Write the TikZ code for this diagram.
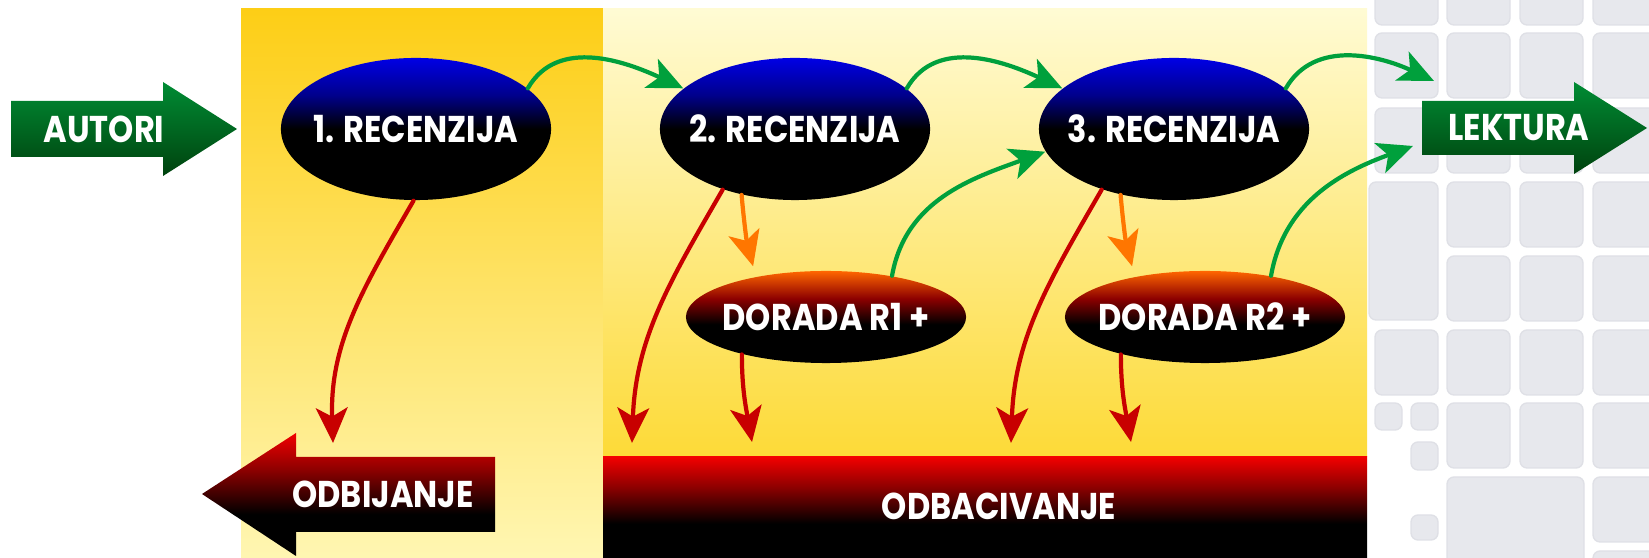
\documentclass[tikz,border=0pt]{standalone}
\usepackage{fontspec}
\setmainfont{Poppins}[FakeStretch=0.86]
\usetikzlibrary{arrows.meta,shapes.geometric}

\definecolor{goldtop}{RGB}{253,206,22}
\definecolor{goldbot}{RGB}{255,246,178}
\definecolor{paletop}{RGB}{255,251,212}
\definecolor{palebot}{RGB}{253,218,55}
\definecolor{keygrey}{RGB}{231,232,237}
\definecolor{keyedge}{RGB}{223,224,230}
\definecolor{arrgreen}{RGB}{0,140,52}
\definecolor{arrgreendk}{RGB}{0,66,14}
\definecolor{linegreen}{RGB}{0,160,60}
\definecolor{linered}{RGB}{200,0,0}
\definecolor{lineorange}{RGB}{255,118,0}

\pgfdeclareverticalshading{recshade}{100bp}{color(0bp)=(black); color(50bp)=(black);
  color(62bp)=(blue!55!black); color(75bp)=(blue!90!black); color(100bp)=(blue!90!black)}
\pgfdeclareverticalshading{dorshade}{100bp}{color(0bp)=(black); color(46bp)=(black);
  color(60bp)=(red!55!black); color(75bp)=(orange!80!red); color(100bp)=(orange!80!red)}
\pgfdeclareverticalshading{redshade}{100bp}{color(0bp)=(black); color(42bp)=(black);
  color(60bp)=(red!55!black); color(75bp)=(red!95!black); color(100bp)=(red!95!black)}

\begin{document}
\begin{tikzpicture}[x=0.01cm,y=0.01cm,line cap=round,line join=round,
  txt/.style={text=white,font=\bfseries\fontsize{10.6}{12}\selectfont},
  recenz/.style={ellipse,shade,shading=recshade,minimum width=2.7cm,minimum height=1.42cm,
    inner xsep=-8pt,inner ysep=0pt,txt},
  dorada/.style={ellipse,shade,shading=dorshade,minimum width=2.8cm,minimum height=0.92cm,
    inner xsep=-8pt,inner ysep=0pt,txt},
  tip/.style={-{Stealth[length=10pt,width=9pt,inset=2.5pt]}},
  greenline/.style={draw=linegreen,line width=1.2pt,tip},
  redline/.style={draw=linered,line width=1.2pt,tip},
  orangeline/.style={draw=lineorange,line width=1.2pt,tip,shorten >=3pt},
  keycap/.style={fill=keygrey,draw=keyedge,rounded corners=2pt}]
\useasboundingbox (0,0) rectangle (1649,558);

% keyboard in the back
\begin{scope}
\clip (1367,0) rectangle (1649,558);
\foreach \ky in {598,525,450,376,302,228,155}
  \foreach \kx in {1447,1520,1593}
    \draw[keycap] (\kx,\ky) rectangle ++(63,-65);
\foreach \ky in {81,7}
  \draw[keycap] (1593,\ky) rectangle ++(63,-65);
\foreach \ky in {598,525,450,228}
  \draw[keycap] (1375,\ky) rectangle ++(63,-65);
\draw[keycap] (1369,376) rectangle (1438,238);
\draw[keycap] (1375,155) rectangle (1402,128);
\draw[keycap] (1411,155) rectangle (1438,128);
\draw[keycap] (1411,116) rectangle (1438,88);
\draw[keycap] (1411,43) rectangle (1438,18);
\draw[keycap] (1447,81) rectangle (1584,-57);
\end{scope}

% the two panels
\shade[top color=goldtop,bottom color=goldbot] (241,0) rectangle (603,549);
\shade[top color=paletop,bottom color=palebot] (603,101) rectangle (1367,549);
\shade[shading=redshade] (603,0) rectangle (1367,101);

% big arrows
\shade[top color=arrgreen,bottom color=arrgreendk] (11,401) -- (163,401) -- (163,382) -- (237,429)
  -- (163,476) -- (163,457) -- (11,457) -- cycle;
\shade[top color=arrgreen,bottom color=arrgreendk] (1422,403) -- (1574,403) -- (1574,384) -- (1647,430)
  -- (1574,476) -- (1574,457) -- (1422,457) -- cycle;
\shade[shading=redshade] (495,26) -- (296,26) -- (296,2) -- (202,64) -- (296,125) -- (296,101)
  -- (495,101) -- cycle;

\node[txt] (autori) at (104,429) {AUTORI};
\node[txt] (lektura) at (1519,430) {LEKTURA};
\node[txt] (odbij) at (383,64) {ODBIJANJE};
\node[txt] (odbac) at (999,52) {ODBACIVANJE};

% reviews
\node[recenz] (rec1) at (416,429) {1. RECENZIJA};
\node[recenz] (rec2) at (795,429) {2. RECENZIJA};
\node[recenz] (rec3) at (1174,429) {3. RECENZIJA};
\node[dorada] (dor1) at (826,241) {DORADA R1~+};
\node[dorada] (dor2) at (1205,241) {DORADA R2~+};

% free ends
\coordinate (lekin) at (1434,477);
\coordinate (lekin2) at (1413,412);
\coordinate (r1) at (333,115);
\coordinate (r2) at (632,115);
\coordinate (r3) at (752,116);
\coordinate (r4) at (1011,115);
\coordinate (r5) at (1131,116);

\draw[greenline] (rec1.20) to[out=60,in=155] (rec2.160);
\draw[greenline] (rec2.20) to[out=60,in=155] (rec3.160);
\draw[greenline] (rec3.20) to[out=60,in=155] (lekin);
\draw[greenline] (dor1.32) to[out=80,in=200] (rec3.190);
\draw[greenline] (dor2.32) to[out=80,in=200] (lekin2);

\draw[orangeline] (rec2.231) to[out=-85,in=105] (dor1.150);
\draw[orangeline] (rec3.231) to[out=-85,in=105] (dor2.150);

\draw[redline] (rec1.268) to[out=240,in=92] (r1);
\draw[redline] (rec2.220) to[out=240,in=88] (r2);
\draw[redline] (dor1.204) to[out=-90,in=100] (r3);
\draw[redline] (rec3.220) to[out=240,in=88] (r4);
\draw[redline] (dor2.204) to[out=-90,in=100] (r5);
\end{tikzpicture}
\end{document}
